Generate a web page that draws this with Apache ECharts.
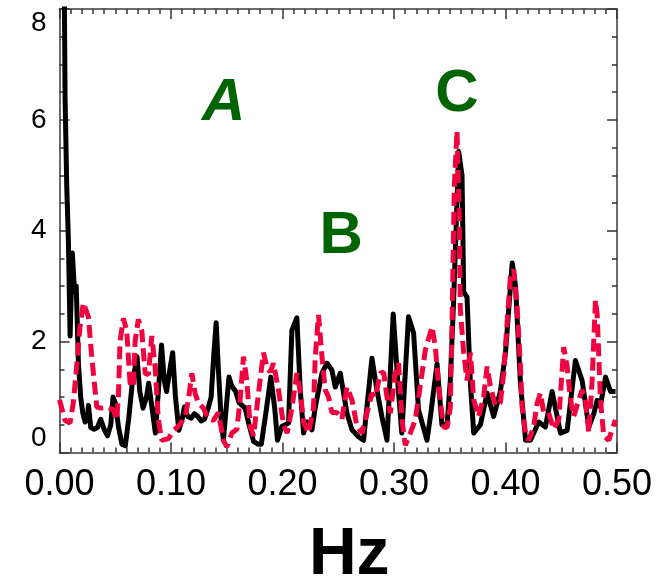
<!DOCTYPE html>
<html>
<head>
<meta charset="utf-8">
<script src="https://cdn.jsdelivr.net/npm/echarts@6/dist/echarts.min.js"></script>
<style>
html,body{margin:0;padding:0;background:#fff;}
#chart{width:659px;height:583px;}
</style>
</head>
<body>
<div id="chart"></div>
<script>
// Black (solid) spectrum
const blackFreq = [0.003,0.005,0.0065,0.008,0.0095,0.0115,0.0135,0.015,0.017,0.019,0.021,0.023,0.025,0.026,0.028,0.031,0.034,0.037,0.040,0.043,0.046,0.048,0.050,0.053,0.056,0.059,0.062,0.065,0.0695,0.072,0.075,0.078,0.080,0.083,0.086,0.089,0.0915,0.094,0.096,0.099,0.1015,0.104,0.107,0.110,0.112,0.115,0.118,0.121,0.124,0.127,0.130,0.133,0.136,0.1385,0.1405,0.1425,0.145,0.147,0.1495,0.152,0.1545,0.158,0.161,0.1665,0.170,0.174,0.178,0.181,0.185,0.1895,0.193,0.1955,0.1994,0.2054,0.2084,0.2129,0.2159,0.2189,0.2219,0.2264,0.2294,0.2354,0.2399,0.2443,0.2473,0.2518,0.2548,0.2578,0.2623,0.2683,0.2727,0.2757,0.2802,0.2847,0.2892,0.2937,0.2993,0.304,0.307,0.313,0.3176,0.322,0.3296,0.333,0.3386,0.343,0.3476,0.3505,0.3535,0.358,0.361,0.3625,0.3655,0.3685,0.3715,0.3775,0.3835,0.3894,0.3954,0.400,0.406,0.409,0.4134,0.418,0.4224,0.4298,0.4358,0.4418,0.4493,0.4553,0.4627,0.4687,0.4747,0.4792,0.4822,0.485,0.4897,0.4942,0.4987];
const blackPower = [12,6.4,4.8,3.8,2.1,3.6,2.9,3.0,1.6,1.0,0.7,0.55,0.6,0.85,0.45,0.42,0.45,0.6,0.42,0.3,0.5,1.0,0.9,0.45,0.15,0.12,0.6,1.2,1.73,1.1,0.8,1.0,1.25,0.8,0.35,1.2,1.94,1.3,1.1,1.5,1.8,1.0,0.4,0.6,0.82,0.65,0.62,0.7,0.65,0.57,0.6,0.78,1.0,1.8,2.34,1.5,0.6,0.22,0.8,1.36,1.2,1.1,0.9,0.8,0.5,0.2,0.15,0.15,0.7,1.36,0.8,0.22,0.47,0.53,2.2,2.43,1.13,0.35,0.55,0.41,0.82,1.43,1.61,1.49,1.18,1.43,1.07,0.71,0.41,0.28,0.22,0.82,1.7,1.13,0.64,0.22,2.5,1.1,0.35,2.45,2.15,0.77,0.22,0.7,1.6,0.5,0.5,1.3,2.75,5.43,5.0,2.9,2.8,1.25,0.35,0.5,1.07,0.65,1.1,1.8,3.42,3.0,1.25,0.22,0.22,0.55,0.46,1.1,0.35,0.4,1.66,1.3,0.46,0.7,0.94,0.83,1.36,1.1,1.1];

// Red (dashed) spectrum
const redFreq = [0.000,0.005,0.0094,0.0124,0.0154,0.0184,0.0214,0.0259,0.0289,0.0319,0.0334,0.0373,0.0424,0.0483,0.0513,0.0528,0.0543,0.0573,0.0603,0.0633,0.0662,0.0678,0.0707,0.0738,0.0768,0.0797,0.0828,0.0857,0.0887,0.0917,0.0977,0.1022,0.1066,0.1127,0.1156,0.1187,0.1216,0.1246,0.1291,0.1336,0.1381,0.1425,0.147,0.1501,0.1546,0.1591,0.162,0.165,0.168,0.171,0.174,0.1785,0.1829,0.186,0.189,0.1919,0.1964,0.2009,0.2042,0.2084,0.2129,0.2159,0.2189,0.2233,0.2278,0.2294,0.2323,0.2354,0.2383,0.2413,0.2443,0.2488,0.2533,0.2578,0.2623,0.2668,0.2713,0.2758,0.2803,0.2832,0.2877,0.2907,0.2937,0.2967,0.3012,0.3041,0.3072,0.3101,0.3146,0.3191,0.3221,0.3281,0.3341,0.3371,0.34,0.3445,0.3476,0.3505,0.3521,0.3541,0.3565,0.3586,0.3595,0.3625,0.3655,0.3685,0.3715,0.3759,0.3804,0.3835,0.3864,0.3909,0.3954,0.3984,0.4014,0.4044,0.4074,0.4104,0.4134,0.4149,0.4179,0.4208,0.4253,0.4284,0.4313,0.4343,0.4385,0.4433,0.4478,0.4522,0.4553,0.4583,0.4612,0.4657,0.4688,0.4717,0.4747,0.4777,0.4807,0.4822,0.4852,0.4881,0.4926,0.4957,0.4987];
const redPower = [0.95,0.58,0.53,0.9,1.55,2.27,2.7,2.45,1.73,1.13,0.82,0.8,0.82,0.77,0.59,1.0,2.0,2.42,2.2,1.25,1.18,2.0,2.4,2.2,1.43,1.4,2.1,1.55,0.59,0.22,0.25,0.4,0.47,0.64,0.95,1.43,1.07,0.89,0.8,0.6,0.58,0.72,0.22,0.1,0.35,0.42,0.95,1.73,1.3,0.47,0.3,1.07,1.8,1.55,1.45,1.61,1.13,0.5,0.35,0.8,1.43,1.1,0.55,0.35,0.8,1.73,2.48,1.73,1.13,1.0,0.72,0.72,0.6,1.18,0.95,0.47,0.35,0.72,1.07,1.0,1.43,1.45,1.0,0.71,1.43,1.61,0.59,0.13,0.35,0.59,1.0,1.85,2.27,1.9,1.18,0.46,0.45,0.82,2.4,4.8,5.8,4.2,2.58,1.8,1.3,1.8,0.95,0.65,1.0,1.55,1.2,0.85,0.9,1.43,2.33,3.17,3.3,2.63,1.55,0.82,0.36,0.22,0.47,0.89,1.07,0.72,0.72,0.42,0.6,1.9,1.55,0.95,0.65,0.95,1.13,0.95,0.36,1.3,2.75,2.5,0.95,0.3,0.22,0.42,0.59];

// Annotations (label, frequency, power)
const noteLabels = ['A','B','C'];
const noteFreq = [0.1472,0.2527,0.3564];
const notePower = [6.3,3.9,6.45];

const xTickLabelDigits = 2;

const zip = (xs, ys) => xs.map((x, i) => [x, ys[i]]);

const FRAME = '#6a6a6a';
const baseAxis = {
  type: 'value',
  axisLine: { show: true, onZero: false, lineStyle: { color: FRAME, width: 2 } },
  axisTick: { show: true, inside: true, length: 10, lineStyle: { color: '#333', width: 1.5 } },
  minorTick: { show: true, length: 5, lineStyle: { color: '#333', width: 1.5 } },
  splitLine: { show: false },
  minorSplitLine: { show: false }
};

const chart = echarts.init(document.getElementById('chart'), null, { renderer: 'canvas' });
chart.setOption({
  animation: false,
  backgroundColor: '#fff',
  grid: { left: 59.5, right: 42, top: 9, bottom: 130.5, containLabel: false, outerBoundsMode: 'none' },
  xAxis: [
    Object.assign({}, baseAxis, {
      position: 'bottom', min: 0, max: 0.5, interval: 0.1,
      minorTick: Object.assign({}, baseAxis.minorTick, { splitNumber: 10 }),
      axisLabel: { show: true, fontFamily: 'Liberation Sans', fontSize: 36, color: '#000', margin: 15,
        formatter: v => v.toFixed(xTickLabelDigits) },
      name: 'Hz', nameLocation: 'middle', nameGap: 70,
      nameTextStyle: { fontFamily: 'Liberation Sans', fontWeight: 'bold', fontSize: 66, color: '#000', padding: [0, 0, 0, 22] }
    }),
    Object.assign({}, baseAxis, {
      position: 'top', min: 0, max: 0.5, interval: 0.1,
      minorTick: Object.assign({}, baseAxis.minorTick, { splitNumber: 10 }),
      axisLabel: { show: false }
    })
  ],
  yAxis: [
    Object.assign({}, baseAxis, {
      position: 'left', min: 0, max: 8, interval: 2,
      minorTick: Object.assign({}, baseAxis.minorTick, { splitNumber: 4 }),
      axisLabel: { show: true, fontFamily: 'Liberation Sans', fontSize: 28, color: '#000', margin: 13,
        verticalAlignMinLabel: 'bottom', verticalAlignMaxLabel: 'top' }
    }),
    Object.assign({}, baseAxis, {
      position: 'right', min: 0, max: 8, interval: 2,
      minorTick: Object.assign({}, baseAxis.minorTick, { splitNumber: 4 }),
      axisLabel: { show: false }
    })
  ],
  series: [
    {
      type: 'line', xAxisIndex: 0, yAxisIndex: 0,
      data: zip(blackFreq, blackPower),
      showSymbol: false, symbol: 'none', clip: true,
      lineStyle: { color: '#000', width: 5, join: 'round' },
      z: 2
    },
    {
      type: 'line', xAxisIndex: 0, yAxisIndex: 0,
      data: zip(redFreq, redPower),
      showSymbol: false, symbol: 'none', clip: true,
      lineStyle: { color: '#f0043f', width: 5, type: [13, 6] },
      z: 3
    },
    {
      type: 'scatter', xAxisIndex: 0, yAxisIndex: 0,
      symbolSize: 0, silent: true,
      itemStyle: { color: '#006400', opacity: 1 },
      data: noteLabels.map((n, i) => ({
        value: [noteFreq[i], notePower[i]],
        label: { fontStyle: i === 0 ? 'italic' : 'normal' }
      })),
      label: {
        show: true, position: 'inside', opacity: 1,
        formatter: p => noteLabels[p.dataIndex],
        fontFamily: 'Liberation Sans', fontWeight: 'bold', fontSize: 60, color: '#006400',
        textBorderWidth: 0, textBorderColor: 'transparent'
      },
      z: 4
    }
  ]
});
</script>
</body>
</html>
